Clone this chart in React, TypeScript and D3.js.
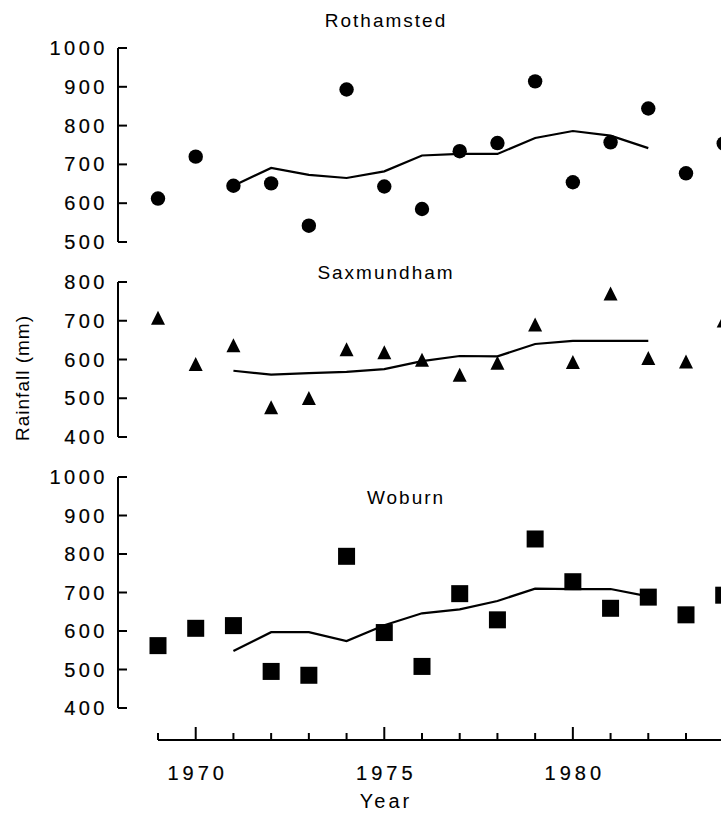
import React from "react";
import * as d3 from "d3";

const years = [1969, 1970, 1971, 1972, 1973, 1974, 1975, 1976, 1977, 1978, 1979, 1980, 1981, 1982, 1983, 1984];
const avgYears = [1971, 1972, 1973, 1974, 1975, 1976, 1977, 1978, 1979, 1980, 1981, 1982];

const rothamsted = [612, 720, 645, 651, 542, 893, 643, 585, 734, 755, 914, 654, 757, 844, 677, 754];
const rothamstedAvg = [645, 691, 673, 665, 682, 723, 727, 727, 768, 786, 774, 742];

const saxmundham = [704, 585, 633, 473, 497, 623, 615, 596, 557, 588, 687, 590, 767, 600, 591, 697];
const saxmundhamAvg = [571, 561, 565, 568, 575, 596, 609, 608, 640, 648, 648, 648];

const woburn = [562, 607, 614, 495, 485, 794, 596, 508, 697, 629, 839, 728, 659, 688, 642, 693];
const woburnAvg = [548, 597, 597, 574, 615, 646, 656, 678, 710, 709, 709, 690];

const rothTicks = [500, 600, 700, 800, 900, 1000];
const saxTicks = [400, 500, 600, 700, 800];
const wobTicks = [400, 500, 600, 700, 800, 900, 1000];
const xTickYears = [1969, 1970, 1971, 1972, 1973, 1974, 1975, 1976, 1977, 1978, 1979, 1980, 1981, 1982, 1983, 1984];
const xLabelYears = [1970, 1975, 1980];

const FONT = "'Liberation Sans', Arial, Helvetica, sans-serif";

const x = d3.scaleLinear().domain([1969, 1983]).range([158, 686]);

type Panel = {
  name: string;
  values: number[];
  avg: number[];
  ticks: number[];
  domain: [number, number];
  range: [number, number];
  marker: "circle" | "triangle" | "square";
  titleX: number;
  titleY: number;
};

const panels: Panel[] = [
  { name: "Rothamsted", values: rothamsted, avg: rothamstedAvg, ticks: rothTicks, domain: [500, 1000], range: [242, 48], marker: "circle", titleX: 386, titleY: 20 },
  { name: "Saxmundham", values: saxmundham, avg: saxmundhamAvg, ticks: saxTicks, domain: [400, 800], range: [437, 282], marker: "triangle", titleX: 386, titleY: 272 },
  { name: "Woburn", values: woburn, avg: woburnAvg, ticks: wobTicks, domain: [400, 1000], range: [708, 477], marker: "square", titleX: 406, titleY: 497 },
];

const AXIS_X = 118;
const numStyle = { stroke: "#000", strokeWidth: 0.2 };

function Marker({ kind, cx, cy }: { kind: string; cx: number; cy: number }) {
  if (kind === "circle") return <circle cx={cx} cy={cy} r={7.2} fill="#000" />;
  if (kind === "triangle") {
    const h = 14, w = 14;
    const p = `${cx},${cy - h * 0.6} ${cx + w / 2},${cy + h * 0.4} ${cx - w / 2},${cy + h * 0.4}`;
    return <polygon points={p} fill="#000" />;
  }
  const s = 17;
  return <rect x={cx - s / 2} y={cy - s / 2} width={s} height={s} fill="#000" />;
}

function PanelView({ p }: { p: Panel }) {
  const y = d3.scaleLinear().domain(p.domain).range(p.range);
  const line = d3
    .line<number>()
    .x((_, i) => x(avgYears[i]))
    .y((d) => y(d));
  const [y0, y1] = p.range;
  return (
    <g>
      <text x={p.titleX} y={p.titleY} textAnchor="middle" dominantBaseline="central" fontFamily={FONT} fontSize={19} letterSpacing={2}>
        {p.name}
      </text>
      <line x1={AXIS_X} x2={AXIS_X} y1={y1} y2={y0} stroke="#000" strokeWidth={2} />
      {p.ticks.map((t) => (
        <g key={t}>
          <line x1={AXIS_X} x2={AXIS_X + 9} y1={y(t)} y2={y(t)} stroke="#000" strokeWidth={2} />
          <text x={AXIS_X - 10} y={y(t)} textAnchor="end" dominantBaseline="central" fontFamily={FONT} fontSize={20} letterSpacing={3.5} style={numStyle}>
            {t}
          </text>
        </g>
      ))}
      <path d={line(p.avg) || ""} fill="none" stroke="#000" strokeWidth={2.2} />
      {p.values.map((v, i) => (
        <Marker key={i} kind={p.marker} cx={x(years[i])} cy={y(v)} />
      ))}
    </g>
  );
}

export default function App() {
  const axisY = 740;
  return (
    <div style={{ position: "absolute", left: 0, top: 0 }}>
      <svg width={721} height={820} style={{ display: "block", background: "#fff" }}>
        <rect width={721} height={820} fill="#fff" />
        {panels.map((p) => (
          <PanelView key={p.name} p={p} />
        ))}
        <line x1={x(1969)} x2={730} y1={axisY} y2={axisY} stroke="#000" strokeWidth={2} />
        {xTickYears.map((t) => (
          <line key={t} x1={x(t)} x2={x(t)} y1={axisY} y2={axisY - (xLabelYears.includes(t) ? 13 : 7)} stroke="#000" strokeWidth={2} />
        ))}
        {xLabelYears.map((t) => (
          <text key={t} x={x(t) + 2} y={773} textAnchor="middle" dominantBaseline="central" fontFamily={FONT} fontSize={20} letterSpacing={4} style={numStyle}>
            {t}
          </text>
        ))}
        <text x={386} y={801} textAnchor="middle" dominantBaseline="central" fontFamily={FONT} fontSize={20} letterSpacing={3}>
          Year
        </text>
        <text
          transform={`translate(22,378) rotate(-90)`}
          textAnchor="middle"
          dominantBaseline="central"
          fontFamily={FONT}
          fontSize={19}
          letterSpacing={1}
        >
          Rainfall (mm)
        </text>
      </svg>
    </div>
  );
}
